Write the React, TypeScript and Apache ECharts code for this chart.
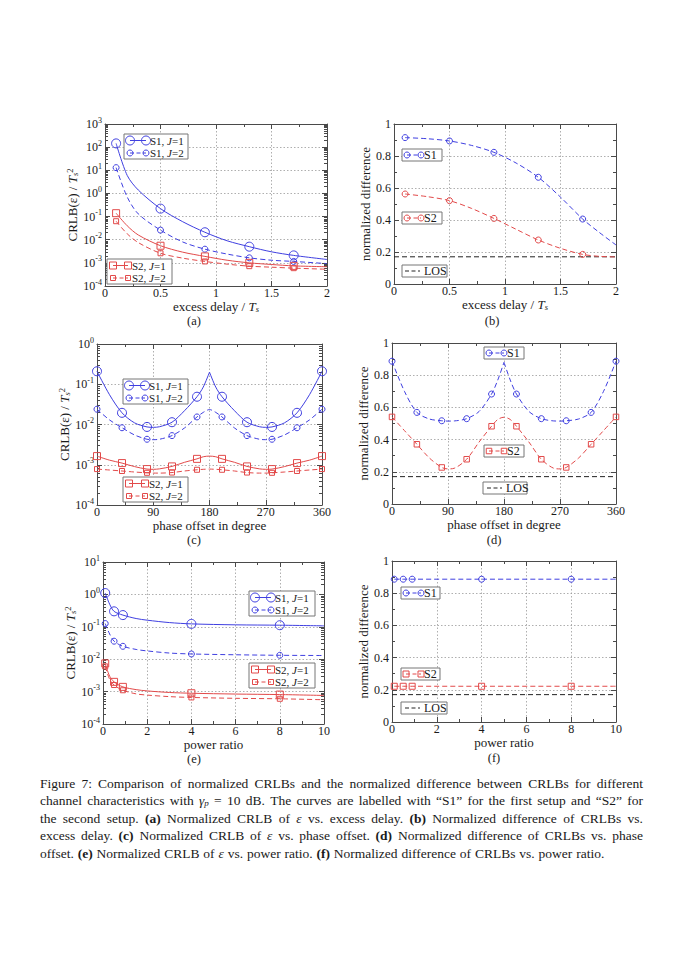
import React, { useEffect, useRef } from 'react';
import * as echarts from 'echarts';

// ---------------- data ----------------
const delayRange = [0, 2];
const phaseRange = [0, 360];
const powerRange = [0, 10];

// (a) CRLB vs excess delay
const delayX = [0.1, 0.2, 0.3, 0.5, 0.7, 0.9, 1.1, 1.3, 1.5, 1.7, 2.0];
const delayMarkers = [0.1, 0.5, 0.9, 1.3, 1.7];
const crlbDelayS1J1 = [145, 6, 1.4, 0.22, 0.06, 0.021, 0.009, 0.005, 0.003, 0.0021, 0.0014];
const crlbDelayS1J2 = [13, 0.7, 0.13, 0.026, 0.008, 0.0039, 0.0024, 0.00165, 0.0013, 0.00115, 0.00093];
const crlbDelayS2J1 = [0.14, 0.04, 0.016, 0.0055, 0.0029, 0.0019, 0.0013, 0.001, 0.00085, 0.00074, 0.00068];
const crlbDelayS2J2 = [0.063, 0.018, 0.0075, 0.0026, 0.0016, 0.00115, 0.00088, 0.00072, 0.00065, 0.00059, 0.00053];

// (b) normalized difference vs excess delay
const diffDelayX = [0.1, 0.3, 0.5, 0.7, 0.9, 1.1, 1.3, 1.5, 1.7, 1.85, 2.0];
const diffDelayS1 = [0.915, 0.908, 0.894, 0.866, 0.823, 0.756, 0.667, 0.543, 0.406, 0.322, 0.244];
const diffDelayS2 = [0.5625, 0.546, 0.521, 0.472, 0.41, 0.342, 0.275, 0.223, 0.185, 0.173, 0.169];
const losLevel = 0.17;

// (c) CRLB vs phase offset
const phaseX = [0, 20, 40, 60, 80, 90, 100, 120, 140, 160, 170, 180, 190, 200, 220, 240, 260, 270, 280, 300, 320, 340, 360];
const phaseMarkers = [0, 40, 80, 120, 160, 200, 240, 280, 320, 360];
const crlbPhaseS1J1 = [0.21, 0.055, 0.0195, 0.011, 0.0087, 0.0085, 0.0088, 0.0114, 0.022, 0.049, 0.085, 0.2, 0.085, 0.049, 0.022, 0.0114, 0.0088, 0.0085, 0.0087, 0.011, 0.0195, 0.055, 0.21];
const crlbPhaseS1J2 = [0.024, 0.013, 0.0083, 0.0055, 0.0043, 0.0042, 0.0043, 0.0053, 0.0082, 0.0154, 0.02, 0.0235, 0.02, 0.0154, 0.0082, 0.0053, 0.0043, 0.0042, 0.0043, 0.0055, 0.0083, 0.013, 0.024];
const crlbPhaseS2J1 = [0.00164, 0.0013, 0.0011, 0.0009, 0.00078, 0.00077, 0.00079, 0.00091, 0.00115, 0.0014, 0.00158, 0.00164, 0.00158, 0.0014, 0.00115, 0.00091, 0.00079, 0.00077, 0.00078, 0.0009, 0.0011, 0.0013, 0.00164];
const crlbPhaseS2J2 = [0.00078, 0.00074, 0.0007, 0.00066, 0.00063, 0.00062, 0.00062, 0.00064, 0.0007, 0.00075, 0.00077, 0.00078, 0.00077, 0.00075, 0.0007, 0.00064, 0.00062, 0.00062, 0.00063, 0.00066, 0.0007, 0.00074, 0.00078];

// (d) normalized difference vs phase offset
const diffPhaseS1 = [0.887, 0.7, 0.569, 0.528, 0.517, 0.515, 0.516, 0.53, 0.575, 0.683, 0.77, 0.88, 0.77, 0.683, 0.575, 0.53, 0.516, 0.515, 0.517, 0.528, 0.569, 0.7, 0.887];
const diffPhaseS2 = [0.541, 0.456, 0.371, 0.286, 0.227, 0.218, 0.222, 0.278, 0.385, 0.483, 0.525, 0.539, 0.525, 0.483, 0.385, 0.278, 0.222, 0.218, 0.227, 0.286, 0.371, 0.456, 0.541];

// (e) CRLB vs power ratio
const powerX = [0.1, 0.3, 0.5, 0.9, 1.5, 2, 3, 4, 6, 8, 10];
const powerMarkers = [0.1, 0.5, 0.9, 4, 8];
const crlbPowerS1J1 = [1.1, 0.5, 0.3, 0.23, 0.18, 0.16, 0.135, 0.123, 0.115, 0.112, 0.107];
const crlbPowerS1J2 = [0.126, 0.06, 0.036, 0.025, 0.02, 0.018, 0.0155, 0.0145, 0.0137, 0.0132, 0.013];
const crlbPowerS2J1 = [0.0074, 0.003, 0.002, 0.0014, 0.00115, 0.00105, 0.00094, 0.00089, 0.00084, 0.00081, 0.00076];
const crlbPowerS2J2 = [0.006, 0.0024, 0.0016, 0.0011, 0.00085, 0.00078, 0.0007, 0.00066, 0.00062, 0.0006, 0.00056];

// (f) normalized difference vs power ratio
const diffPowerX = [0.1, 0.5, 0.9, 4, 8, 10];
const diffPowerS1 = [0.887, 0.887, 0.887, 0.887, 0.887, 0.887];
const diffPowerS2 = [0.222, 0.222, 0.222, 0.222, 0.222, 0.222];

const captionLines = [
  'Figure 7: Comparison of normalized CRLBs and the normalized difference between CRLBs for different',
  'channel characteristics with {i|γ}{sub|p} = 10 dB. The curves are labelled with “S1” for the first setup and “S2” for',
  'the second setup. {b|(a)} Normalized CRLB of {i|ε} vs. excess delay. {b|(b)} Normalized difference of CRLBs vs.',
  'excess delay. {b|(c)} Normalized CRLB of {i|ε} vs. phase offset. {b|(d)} Normalized difference of CRLBs vs. phase',
  'offset. {b|(e)} Normalized CRLB of {i|ε} vs. power ratio. {b|(f)} Normalized difference of CRLBs vs. power ratio.',
];

// ---------------- styling ----------------
const FONT = "'Liberation Serif','Times New Roman',serif";
const TXT = '#1a1a1a';
const AX = '#4a4a4a';
const BLUE = '#3f3fe0';
const RED = '#e24a4a';
const BLACK = '#222';
const DASH = [5, 3];

const grids = [
  { left: 105, top: 124, width: 222, height: 162 },
  { left: 394, top: 124, width: 222, height: 160 },
  { left: 97, top: 344, width: 225, height: 161 },
  { left: 392, top: 343, width: 224, height: 161 },
  { left: 103, top: 562, width: 221, height: 162 },
  { left: 392, top: 561, width: 224, height: 161 },
];

const nameRich: any = {
  i: { fontFamily: FONT, fontSize: 13, fontStyle: 'italic', color: TXT, lineHeight: 14 },
  sub: { fontFamily: FONT, fontSize: 8.5, fontStyle: 'italic', color: TXT, lineHeight: 7, verticalAlign: 'bottom' },
  sup: { fontFamily: FONT, fontSize: 8.5, color: TXT, lineHeight: 7, verticalAlign: 'top' },
};

const logRich: any = {
  b: { fontFamily: FONT, fontSize: 12, color: TXT, lineHeight: 16 },
  e: { fontFamily: FONT, fontSize: 8, color: TXT, lineHeight: 9, verticalAlign: 'top' },
};

function axisCommon(gi: number) {
  return {
    gridIndex: gi,
    axisLine: { show: true, onZero: false, lineStyle: { color: AX, width: 1 } },
    axisTick: { show: true, inside: true, length: 5, lineStyle: { color: AX, width: 1 } },
    splitLine: { show: true, lineStyle: { color: '#9a9a9a', width: 0.8, type: [1.5, 2] } },
  };
}

function xPair(gi: number, range: number[], interval: number, minor: number, name: string) {
  const base: any = {
    ...axisCommon(gi),
    type: 'value',
    min: range[0],
    max: range[1],
    interval,
    minorTick: { show: true, splitNumber: minor, length: 3, lineStyle: { color: AX, width: 1 } },
  };
  return [
    {
      ...base,
      position: 'bottom',
      name,
      nameLocation: 'middle',
      nameGap: 13,
      nameTextStyle: { fontFamily: FONT, fontSize: 13, color: TXT, lineHeight: 14, rich: nameRich },
      axisLabel: { fontFamily: FONT, fontSize: 12, color: TXT, margin: 0, lineHeight: 13 },
    },
    { ...base, position: 'top', splitLine: { show: false }, axisLabel: { show: false } },
  ];
}

function yPair(gi: number, log: boolean, min: number, max: number, name: string, nameGap: number) {
  const base: any = log
    ? {
        ...axisCommon(gi),
        type: 'log',
        logBase: 10,
        min,
        max,
        minorTick: { show: true, splitNumber: 9, length: 3, lineStyle: { color: AX, width: 1 } },
      }
    : {
        ...axisCommon(gi),
        type: 'value',
        min,
        max,
        interval: 0.2,
        minorTick: { show: true, splitNumber: 2, length: 3, lineStyle: { color: AX, width: 1 } },
      };
  const label: any = log
    ? {
        margin: 3,
        formatter: (v: number) => `{b|10}{e|${Math.round(Math.log10(v))}}`,
        rich: logRich,
      }
    : { fontFamily: FONT, fontSize: 12, color: TXT, margin: 3 };
  return [
    {
      ...base,
      position: 'left',
      name,
      nameLocation: 'middle',
      nameGap,
      nameTextStyle: { fontFamily: FONT, fontSize: 13, color: TXT, lineHeight: 14, rich: nameRich },
      axisLabel: label,
    },
    { ...base, position: 'right', splitLine: { show: false }, axisLabel: { show: false } },
  ];
}

function curve(
  gi: number,
  xs: number[],
  ys: number[],
  markers: number[],
  color: string,
  dashed: boolean,
  symbol: string,
  size: number,
  keep?: (x: number) => boolean,
) {
  const data: any[] = [];
  xs.forEach((x, i) => {
    if (keep && !keep(x)) return;
    if (markers.indexOf(x) >= 0) data.push({ value: [x, ys[i]] });
    else data.push({ value: [x, ys[i]], symbol: 'none' });
  });
  return {
    type: 'line',
    xAxisIndex: 2 * gi,
    yAxisIndex: 2 * gi,
    data,
    smooth: 0.3,
    symbol,
    symbolSize: size,
    showSymbol: true,
    showAllSymbol: true,
    silent: true,
    z: 3,
    lineStyle: { color, width: 1, type: dashed ? DASH : 'solid' },
    itemStyle: { color: 'rgba(255,255,255,0)', borderColor: color, borderWidth: 1 },
  };
}

function losLine(gi: number, range: number[]) {
  return {
    type: 'line',
    xAxisIndex: 2 * gi,
    yAxisIndex: 2 * gi,
    data: [
      [range[0], losLevel],
      [range[1], losLevel],
    ],
    symbol: 'none',
    silent: true,
    z: 2,
    lineStyle: { color: BLACK, width: 1, type: DASH },
  };
}

// ---------------- legends (graphic) ----------------
const LEG_FS = 11;
const LEG_LH = 12.5;
const legRich: any = {
  i: { fontFamily: FONT, fontSize: LEG_FS, fontStyle: 'italic', fill: TXT, lineHeight: LEG_LH },
};

type Row = { y: number; dash: boolean; size: number };
type Leg = { box: number[]; rows: Row[]; x1: number; x2: number; tx: number; color: string; sym: string; text: string };

function legend(L: Leg) {
  const [x, y, w, h] = L.box;
  const els: any[] = [
    { type: 'rect', shape: { x, y, width: w, height: h }, style: { fill: '#fff', stroke: '#777', lineWidth: 1 }, z: 100 },
  ];
  L.rows.forEach((r) => {
    els.push({
      type: 'line',
      shape: { x1: L.x1, y1: r.y, x2: L.x2, y2: r.y },
      style: { stroke: L.color, lineWidth: 1, lineDash: r.dash ? [4, 2.5] : null },
      z: 101,
    });
    [L.x1, L.x2].forEach((cx) => {
      if (L.sym === 'circle')
        els.push({ type: 'circle', shape: { cx, cy: r.y, r: r.size / 2 }, style: { fill: 'none', stroke: L.color, lineWidth: 1 }, z: 102 });
      else if (L.sym === 'rect')
        els.push({
          type: 'rect',
          shape: { x: cx - r.size / 2, y: r.y - r.size / 2, width: r.size, height: r.size },
          style: { fill: 'none', stroke: L.color, lineWidth: 1 },
          z: 102,
        });
    });
  });
  const midY = (L.rows[0].y + L.rows[L.rows.length - 1].y) / 2;
  els.push({
    type: 'text',
    x: L.tx,
    y: midY,
    style: {
      text: L.text,
      fontFamily: FONT,
      fontSize: L.rows.length > 1 ? LEG_FS : 12,
      fill: TXT,
      lineHeight: LEG_LH,
      verticalAlign: 'middle',
      align: 'left',
      rich: legRich,
    },
    z: 103,
  });
  return els;
}

function legJ(box: number[], y1: number, x1: number, x2: number, tx: number, color: string, sym: string, s1: number, s2: number, lab: string): Leg {
  return {
    box,
    rows: [
      { y: y1, dash: false, size: s1 },
      { y: y1 + LEG_LH, dash: true, size: s2 },
    ],
    x1,
    x2,
    tx,
    color,
    sym,
    text: `${lab}, {i|J}=1\n${lab}, {i|J}=2`,
  };
}

function legS(box: number[], y: number, x1: number, x2: number, tx: number, color: string, sym: string, size: number, text: string): Leg {
  return { box, rows: [{ y, dash: true, size }], x1, x2, tx, color, sym, text };
}

// ---------------- caption (justified) ----------------
const CAP_SIZE = 13.5;
const CAP_LEFT = 40;
const CAP_WIDTH = 603;
const capRich: any = {
  i: { fontFamily: FONT, fontSize: CAP_SIZE, fontStyle: 'italic', fill: TXT },
  sub: { fontFamily: FONT, fontSize: 9, fontStyle: 'italic', fill: TXT, verticalAlign: 'bottom', lineHeight: 10 },
  b: { fontFamily: FONT, fontSize: CAP_SIZE, fontWeight: 'bold', fill: TXT },
};

let measureCtx: CanvasRenderingContext2D | null = null;
function measureWord(word: string): number {
  if (!measureCtx) measureCtx = document.createElement('canvas').getContext('2d');
  const ctx = measureCtx!;
  let w = 0;
  const re = /\{(\w+)\|([^}]*)\}|([^{]+)/g;
  let m: RegExpExecArray | null;
  while ((m = re.exec(word))) {
    let size = CAP_SIZE;
    let pre = '';
    const txt = m[3] ?? m[2];
    if (m[1] === 'i') pre = 'italic ';
    if (m[1] === 'b') pre = 'bold ';
    if (m[1] === 'sub') {
      pre = 'italic ';
      size = 9;
    }
    ctx.font = `${pre}${size}px ${FONT}`;
    w += ctx.measureText(txt).width;
  }
  return w;
}

function captionGraphics(): any[] {
  const capY = [783, 800.5, 818, 835.5, 853];
  const els: any[] = [];
  captionLines.forEach((line, li) => {
    const words = line.split(' ').filter((w) => w.length > 0);
    const widths = words.map(measureWord);
    const total = widths.reduce((a, b) => a + b, 0);
    const last = li === captionLines.length - 1;
    const gap = last ? measureWord(' ') + 0.5 : (CAP_WIDTH - total) / (words.length - 1);
    let x = CAP_LEFT;
    words.forEach((w, wi) => {
      els.push({
        type: 'text',
        x,
        y: capY[li],
        style: { text: w, fontFamily: FONT, fontSize: CAP_SIZE, fill: TXT, align: 'left', verticalAlign: 'middle', rich: capRich },
      });
      x += widths[wi] + gap;
    });
  });
  return els;
}

function buildOption() {
  const xAxis: any[] = [
    ...xPair(0, delayRange, 0.5, 2, 'excess delay / {i|T}{sub|s}'),
    ...xPair(1, delayRange, 0.5, 2, 'excess delay / {i|T}{sub|s}'),
    ...xPair(2, phaseRange, 90, 2, 'phase offset in degree'),
    ...xPair(3, phaseRange, 90, 2, 'phase offset in degree'),
    ...xPair(4, powerRange, 2, 2, 'power ratio'),
    ...xPair(5, powerRange, 2, 2, 'power ratio'),
  ];
  const crlbName = 'CRLB(ε) / {i|T}{sub|s}{sup|2}';
  const yAxis: any[] = [
    ...yPair(0, true, 1e-4, 1e3, crlbName, 20),
    ...yPair(1, false, 0, 1, 'normalized difference', 10),
    ...yPair(2, true, 1e-4, 1, crlbName, 16),
    ...yPair(3, false, 0, 1, 'normalized difference', 8.5),
    ...yPair(4, true, 1e-4, 10, crlbName, 21),
    ...yPair(5, false, 0, 1, 'normalized difference', 8.5),
  ];

  const leftHalf = (x: number) => x <= 180;
  const rightHalf = (x: number) => x >= 180;

  const series: any[] = [
    // (a)
    curve(0, delayX, crlbDelayS1J1, delayMarkers, BLUE, false, 'circle', 9),
    curve(0, delayX, crlbDelayS1J2, delayMarkers, BLUE, true, 'circle', 6),
    curve(0, delayX, crlbDelayS2J1, delayMarkers, RED, false, 'rect', 7),
    curve(0, delayX, crlbDelayS2J2, delayMarkers, RED, true, 'rect', 5),
    // (b)
    losLine(1, delayRange),
    curve(1, diffDelayX, diffDelayS1, delayMarkers, BLUE, true, 'circle', 6),
    curve(1, diffDelayX, diffDelayS2, delayMarkers, RED, true, 'circle', 6),
    // (c)
    curve(2, phaseX, crlbPhaseS1J1, phaseMarkers, BLUE, false, 'circle', 9, leftHalf),
    curve(2, phaseX, crlbPhaseS1J1, phaseMarkers, BLUE, false, 'circle', 9, rightHalf),
    curve(2, phaseX, crlbPhaseS1J2, phaseMarkers, BLUE, true, 'circle', 6),
    curve(2, phaseX, crlbPhaseS2J1, phaseMarkers, RED, false, 'rect', 7),
    curve(2, phaseX, crlbPhaseS2J2, phaseMarkers, RED, true, 'rect', 5),
    // (d)
    losLine(3, phaseRange),
    curve(3, phaseX, diffPhaseS1, phaseMarkers, BLUE, true, 'circle', 6, leftHalf),
    curve(3, phaseX, diffPhaseS1, phaseMarkers, BLUE, true, 'circle', 6, rightHalf),
    curve(3, phaseX, diffPhaseS2, phaseMarkers, RED, true, 'rect', 5.5),
    // (e)
    curve(4, powerX, crlbPowerS1J1, powerMarkers, BLUE, false, 'circle', 9),
    curve(4, powerX, crlbPowerS1J2, powerMarkers, BLUE, true, 'circle', 6),
    curve(4, powerX, crlbPowerS2J1, powerMarkers, RED, false, 'rect', 7),
    curve(4, powerX, crlbPowerS2J2, powerMarkers, RED, true, 'rect', 5),
    // (f)
    losLine(5, powerRange),
    curve(5, diffPowerX, diffPowerS1, powerMarkers, BLUE, true, 'circle', 6),
    curve(5, diffPowerX, diffPowerS2, powerMarkers, RED, true, 'rect', 6),
  ];

  const legends: Leg[] = [
    // (a)
    legJ([124, 134, 64, 25], 140.5, 130, 146, 150, BLUE, 'circle', 9, 6, 'S1'),
    legJ([107, 259, 65, 25], 265.5, 113, 128, 132, RED, 'rect', 7, 5, 'S2'),
    // (b)
    legS([402, 149, 40, 12], 155, 407, 421, 424, BLUE, 'circle', 6, 'S1'),
    legS([402, 212, 40, 12], 218, 407, 421, 424, RED, 'circle', 6, 'S2'),
    legS([402, 265, 45, 12], 271, 405, 420, 424, BLACK, 'none', 0, 'LOS'),
    // (c)
    legJ([123, 379, 65, 25], 385.5, 129, 145, 149, BLUE, 'circle', 9, 6, 'S1'),
    legJ([123, 477, 65, 25], 483.5, 129, 145, 149, RED, 'rect', 7, 5, 'S2'),
    // (d)
    legS([484, 347, 40, 12], 353, 489, 504, 507, BLUE, 'circle', 6, 'S1'),
    legS([484, 445, 40, 12], 451, 489, 504, 507, RED, 'rect', 5.5, 'S2'),
    legS([483, 482, 44, 12], 488, 487, 502, 506, BLACK, 'none', 0, 'LOS'),
    // (e)
    legJ([249, 591, 66, 25], 597.5, 255, 271, 275, BLUE, 'circle', 9, 6, 'S1'),
    legJ([249, 663, 66, 25], 669.5, 255, 271, 275, RED, 'rect', 7, 5, 'S2'),
    // (f)
    legS([401, 587, 39, 12], 593, 406, 421, 424, BLUE, 'circle', 6, 'S1'),
    legS([401, 668, 39, 12], 674, 406, 421, 424, RED, 'rect', 6, 'S2'),
    legS([401, 702, 46, 12], 708, 405, 420, 424, BLACK, 'none', 0, 'LOS'),
  ];
  const graphics: any[] = [];
  legends.forEach((L) => graphics.push(...legend(L)));

  const panelLabels = [
    { t: '(a)', x: 194, y: 321 },
    { t: '(b)', x: 492, y: 321 },
    { t: '(c)', x: 194, y: 540 },
    { t: '(d)', x: 494, y: 540 },
    { t: '(e)', x: 194, y: 759 },
    { t: '(f)', x: 494, y: 758 },
  ];
  panelLabels.forEach((p) =>
    graphics.push({
      type: 'text',
      x: p.x,
      y: p.y,
      style: { text: p.t, fontFamily: FONT, fontSize: 12.5, fill: TXT, align: 'center', verticalAlign: 'middle' },
    }),
  );

  graphics.push(...captionGraphics());

  return {
    animation: false,
    backgroundColor: '#fff',
    grid: grids.map((g) => ({ ...g, containLabel: false })),
    xAxis,
    yAxis,
    series,
    graphic: graphics,
  };
}

export default function App() {
  const ref = useRef<HTMLDivElement>(null);
  useEffect(() => {
    if (!ref.current) return;
    const chart = echarts.init(ref.current, null, { renderer: 'svg' });
    chart.setOption(buildOption() as any);
    return () => chart.dispose();
  }, []);
  return <div ref={ref} style={{ position: 'absolute', left: 0, top: 0, width: 685, height: 968, background: '#fff' }} />;
}
